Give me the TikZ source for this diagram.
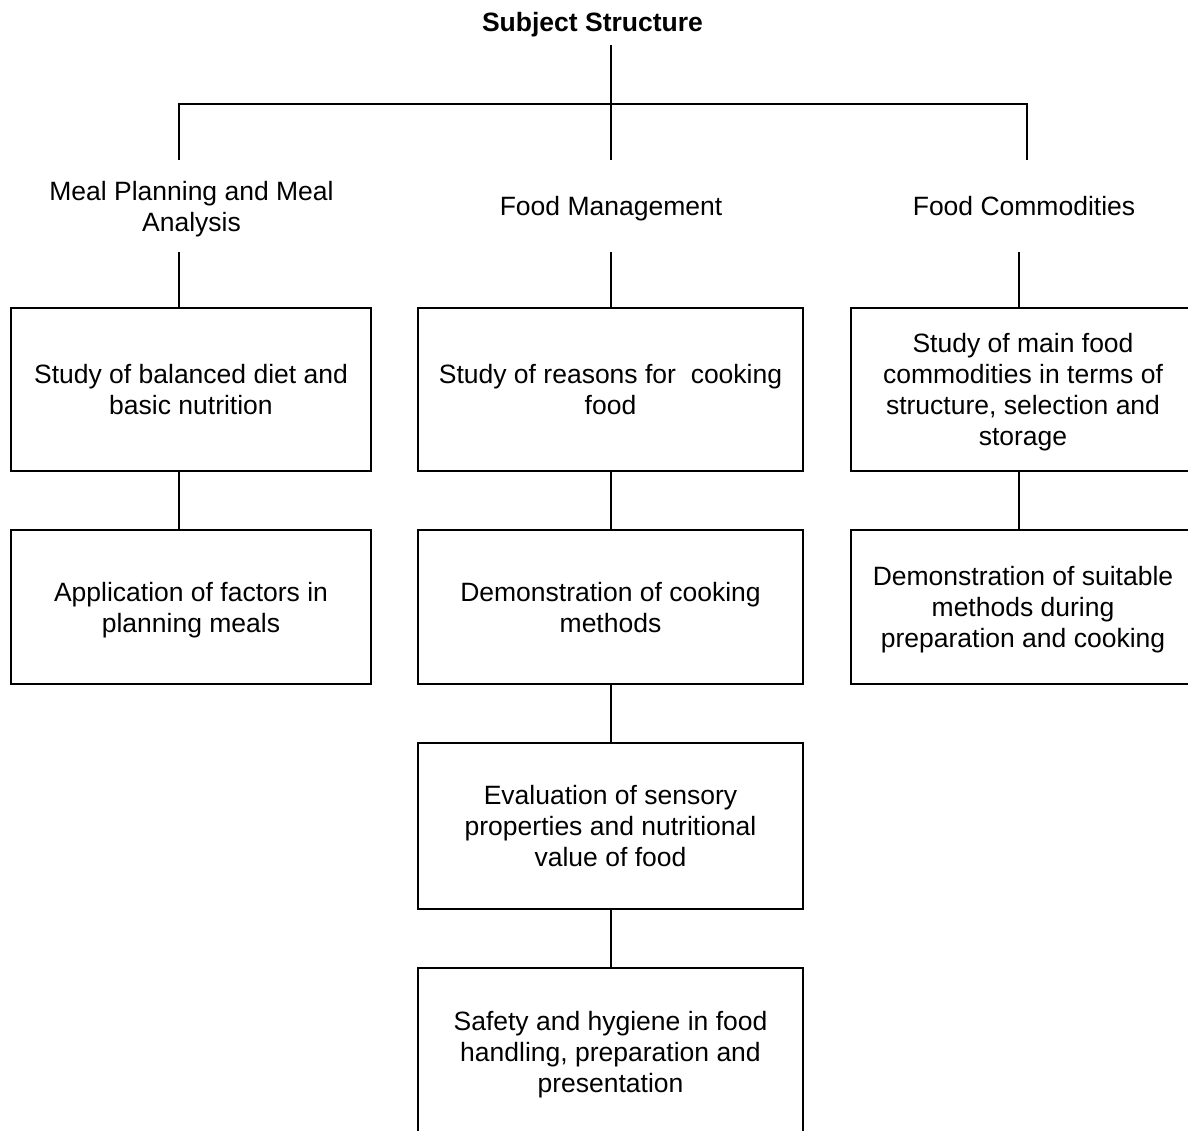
\documentclass[tikz,border=0pt]{standalone}
\usepackage{fontspec}
\setmainfont{Liberation Sans}
\begin{document}
\begin{tikzpicture}[x=1pt,y=-1pt,line width=2pt,
  txt/.style={font=\fontsize{26.5}{31}\selectfont, align=center, inner sep=0pt, text depth=0pt},
  box/.style={txt, draw, line width=2pt},
  head/.style={txt, minimum height=90pt}]
\clip (0,0) rectangle (1188,1131);
\fill[white] (0,0) rectangle (1188,1131);
% column coordinates
\coordinate (colL) at (179,0);
\coordinate (colM) at (611,0);
\coordinate (colR) at (1019,0);
\coordinate (colRt) at (1027,0);
\coordinate (bar) at (611,104);
\coordinate (titlefoot) at (611,45);
% title
\node[font=\fontsize{26.5}{31}\selectfont\bfseries, inner sep=0pt, anchor=base] (title) at (592.5,32) {Subject Structure};
% headings
\node[head] (hL) at (191.5,206) {Meal Planning and Meal\\Analysis};
\node[head] (hM) at (611,206) {Food Management};
\node[head] (hR) at (1024,206) {Food Commodities};
% boxes
\node[box, minimum width=360pt, minimum height=163pt] (b1) at (191,389.5) {Study of balanced diet and\\basic nutrition};
\node[box, minimum width=385pt, minimum height=163pt] (b2) at (610.5,389.5) {Study of reasons for\ \ cooking\\food};
\node[box, minimum width=344pt, minimum height=163pt] (b3) at (1023,389.5) {Study of main food\\commodities in terms of\\structure, selection and\\storage};
\node[box, minimum width=360pt, minimum height=154pt] (b4) at (191,607) {Application of factors in\\planning meals};
\node[box, minimum width=385pt, minimum height=154pt] (b5) at (610.5,607) {Demonstration of cooking\\methods};
\node[box, minimum width=344pt, minimum height=154pt] (b6) at (1023,607) {Demonstration of suitable\\methods during\\preparation and cooking};
\node[box, minimum width=385pt, minimum height=166pt] (b7) at (610.5,826) {Evaluation of sensory\\properties and nutritional\\value of food};
\node[box, minimum width=385pt, minimum height=168pt] (b8) at (610.5,1052) {Safety and hygiene in food\\handling, preparation and\\presentation};
% top tree
\draw (titlefoot) -- (bar);
\draw (bar) -- (hM.north -| colM);
\draw (hL.north -| colL) |- (bar) -| (hR.north -| colRt);
% heading to boxes
\draw (hL.south -| colL) -- (b1.north -| colL);
\draw (hM.south -| colM) -- (b2.north -| colM);
\draw (hR.south -| colR) -- (b3.north -| colR);
% between boxes
\draw (b1.south -| colL) -- (b4.north -| colL);
\draw (b2.south -| colM) -- (b5.north -| colM);
\draw (b3.south -| colR) -- (b6.north -| colR);
\draw (b5.south -| colM) -- (b7.north -| colM);
\draw (b7.south -| colM) -- (b8.north -| colM);
\end{tikzpicture}
\end{document}
